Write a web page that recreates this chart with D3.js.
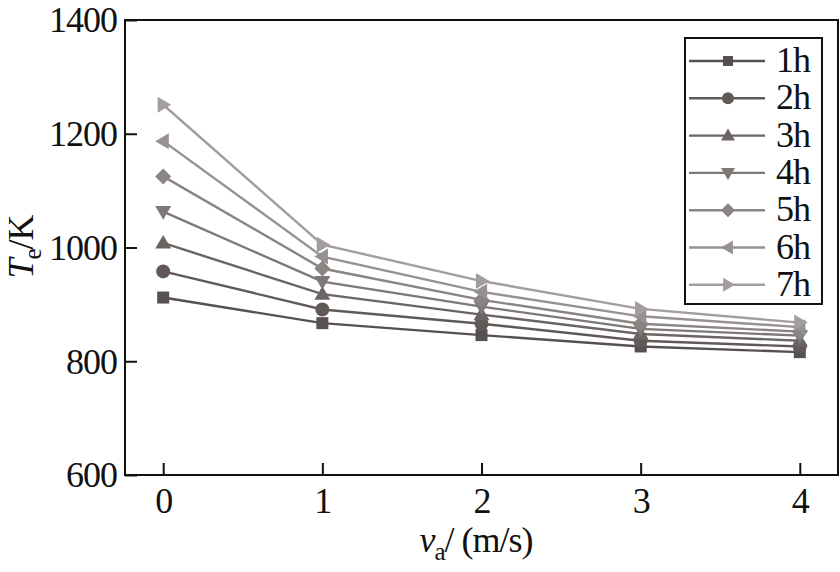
<!DOCTYPE html>
<html>
  <head>
    <script src="https://d3js.org/d3.v7.min.js"></script>
    <style>
      body { margin: 0; background: #fff; }
      text { font-family: "Liberation Serif", "Times New Roman", serif; fill: #111; letter-spacing: -1px; }
    </style>
  </head>
  <body>
    <svg width="840" height="572"></svg>
    <script>
      // wind speed v_a (m/s)
      var speeds = [0, 1, 2, 3, 4];
      var seriesNames = ["1h", "2h", "3h", "4h", "5h", "6h", "7h"];
      var h1 = [912, 867, 846, 826, 816];
      var h2 = [958, 891, 866, 836, 826];
      var h3 = [1008, 918, 882, 848, 836];
      var h4 = [1063, 940, 896, 857, 845];
      var h5 = [1125, 963, 908, 866, 852];
      var h6 = [1187, 984, 922, 879, 860];
      var h7 = [1251, 1005, 941, 892, 868];
      var seriesValues = [h1, h2, h3, h4, h5, h6, h7];
      var colors = ["#575050", "#615958", "#6b6462", "#7e7877", "#8a8483", "#989191", "#a39d9d"];
      var shapes = ["square", "circle", "up", "down", "diamond", "left", "right"];
      var yTicks = [600, 800, 1000, 1200, 1400];

      var svg = d3.select("svg");
      var pLeft = 125, pRight = 838, pTop = 20, pBottom = 475;
      var serif = "'Liberation Serif', 'Times New Roman', serif";

      var x = d3.scaleLinear().domain([-0.24, 4.24]).range([pLeft, pRight]);
      var y = d3.scaleLinear().domain([600, 1400]).range([pBottom, pTop]);

      // frame
      svg.append("rect")
        .attr("x", pLeft).attr("y", pTop)
        .attr("width", pRight - pLeft).attr("height", pBottom - pTop)
        .attr("fill", "none").attr("stroke", "#111").attr("stroke-width", 2);

      var yAxis = svg.append("g")
        .attr("transform", "translate(" + pLeft + ",0)")
        .call(d3.axisLeft(y).tickValues(yTicks).tickSize(-12).tickPadding(8).tickFormat(d3.format("d")))
        .attr("font-family", serif).attr("font-size", 36);
      yAxis.select(".domain").remove();
      yAxis.selectAll("line").attr("stroke", "#111").attr("stroke-width", 2);
      yAxis.selectAll("text").attr("dy", "0.33em").attr("fill", "#111");

      var xAxis = svg.append("g")
        .attr("transform", "translate(0," + pBottom + ")")
        .call(d3.axisBottom(x).tickValues(speeds).tickSize(-12).tickPadding(12).tickFormat(d3.format("d")))
        .attr("font-family", serif).attr("font-size", 36);
      xAxis.select(".domain").remove();
      xAxis.selectAll("line").attr("stroke", "#111").attr("stroke-width", 2);
      xAxis.selectAll("text").attr("dy", "0.71em").attr("fill", "#111");

      // axis titles
      var yt = svg.append("text")
        .attr("transform", "translate(33,247) rotate(-90)")
        .attr("text-anchor", "middle")
        .style("font-size", "36px");
      yt.append("tspan").style("font-style", "italic").text("T");
      yt.append("tspan").attr("dy", 8).style("font-size", "25px").text("e");
      yt.append("tspan").attr("dy", -8).text("/K");

      var xt = svg.append("text")
        .attr("x", 476).attr("y", 552)
        .attr("text-anchor", "middle")
        .style("font-size", "36px");
      xt.append("tspan").style("font-style", "italic").text("v");
      xt.append("tspan").attr("dy", 8).style("font-size", "25px").text("a");
      xt.append("tspan").attr("dy", -8).text("/ (m/s)");

      function marker(g, shape, color, size) {
        var s = size;
        var path;
        if (shape === "square") {
          g.append("rect").attr("x", -s / 2).attr("y", -s / 2).attr("width", s).attr("height", s).attr("fill", color);
          return;
        }
        if (shape === "circle") {
          g.append("circle").attr("r", s / 2 + 1).attr("fill", color);
          return;
        }
        var r = s / 2 + 2;
        if (shape === "up") path = [[0, -r], [r, r * 0.7], [-r, r * 0.7]];
        if (shape === "down") path = [[0, r], [r, -r * 0.7], [-r, -r * 0.7]];
        if (shape === "left") path = [[-r, 0], [r * 0.7, -r], [r * 0.7, r]];
        if (shape === "right") path = [[r, 0], [-r * 0.7, -r], [-r * 0.7, r]];
        if (shape === "diamond") path = [[0, -r], [r, 0], [0, r], [-r, 0]];
        g.append("path").attr("d", "M" + path.join("L") + "Z").attr("fill", color);
      }

      var line = d3.line()
        .x(function(d, i) { return x(speeds[i]); })
        .y(function(d) { return y(d); });

      seriesValues.forEach(function(vals, k) {
        svg.append("path")
          .datum(vals)
          .attr("d", line)
          .attr("fill", "none")
          .attr("stroke", colors[k])
          .attr("stroke-width", 2.4);
      });
      seriesValues.forEach(function(vals, k) {
        vals.forEach(function(v, i) {
          var g = svg.append("g").attr("transform", "translate(" + x(speeds[i]) + "," + y(v) + ")");
          marker(g, shapes[k], colors[k], 12);
        });
      });

      // legend
      var lx = 685, ly = 38, lw = 137, lh = 266;
      svg.append("rect")
        .attr("x", lx).attr("y", ly).attr("width", lw).attr("height", lh)
        .attr("fill", "#fff").attr("stroke", "#111").attr("stroke-width", 2);
      seriesNames.forEach(function(name, k) {
        var cy = 61 + k * 37.3;
        svg.append("line")
          .attr("x1", 689).attr("x2", 765).attr("y1", cy).attr("y2", cy)
          .attr("stroke", colors[k]).attr("stroke-width", 2.4);
        var g = svg.append("g").attr("transform", "translate(728," + cy + ")");
        marker(g, shapes[k], colors[k], 10);
        svg.append("text")
          .attr("x", 776).attr("y", cy + 11)
          .style("font-size", "36px")
          .text(name);
      });
    </script>
  </body>
</html>
